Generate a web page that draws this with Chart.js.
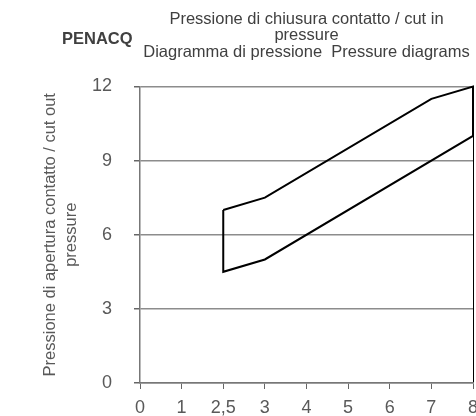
<!DOCTYPE html>
<html>
<head>
<meta charset="utf-8">
<script src="https://cdn.jsdelivr.net/npm/chart.js@4/dist/chart.umd.min.js"></script>
<style>
  html, body { margin: 0; padding: 0; background: #fff; }
  #wrap { width: 476px; height: 416px; }
</style>
</head>
<body>
<div id="wrap"><canvas id="pressChart" width="476" height="416"></canvas></div>
<script>
// pressure diagram - PENACQ

const categories = ['0', '1', '2,5', '3', '4', '5', '6', '7', '8'];
const yTicks = [0, 3, 6, 9, 12];

// upper edge (cut in) and lower edge (cut out) of the working band
const upperX = ['2,5', '3', '7', '8'];
const upperY = [7, 7.5, 11.5, 12];
const lowerX = ['2,5', '3', '8'];
const lowerY = [4.5, 5, 10];

const brand = 'PENACQ';
const titleLines = ['Pressione di chiusura contatto / cut in', 'pressure', 'Diagramma di pressione  Pressure diagrams'];
const yTitleLines = ['Pressione di apertura contatto / cut out', 'pressure'];

// closed outline: along the top, down the right side, back along the bottom
const outline = [];
upperX.forEach((x, i) => outline.push({ x: x, y: upperY[i] }));
for (let i = lowerX.length - 1; i >= 0; i--) outline.push({ x: lowerX[i], y: lowerY[i] });
outline.push({ x: upperX[0], y: upperY[0] });

const brandPlugin = {
  id: 'brand',
  afterDraw(chart) {
    const c = chart.ctx;
    c.save();
    c.font = 'bold 16.5px "Liberation Sans", Arial, sans-serif';
    c.fillStyle = '#404040';
    c.textBaseline = 'alphabetic';
    c.textAlign = 'left';
    c.fillText(brand, 62, 44);
    c.restore();
  }
};

const ctx = document.getElementById('pressChart').getContext('2d');
new Chart(ctx, {
  type: 'line',
  data: {
    labels: categories,
    datasets: [{
      data: outline,
      borderColor: '#000',
      borderWidth: 2,
      tension: 0,
      pointRadius: 0,
      fill: false,
      clip: false
    }]
  },
  options: {
    responsive: false,
    animation: false,
    layout: { padding: { left: 0, right: 3, top: 0, bottom: 0 } },
    plugins: {
      legend: { display: false },
      tooltip: { enabled: false },
      title: {
        display: true,
        fullSize: false,
        text: titleLines,
        color: '#404040',
        font: { family: '"Liberation Sans", Arial, sans-serif', size: 16.5, weight: 'normal', lineHeight: 1 },
        padding: { top: 11, bottom: 26 }
      }
    },
    scales: {
      x: {
        type: 'category',
        offset: false,
        grid: {
          color: (c) => (c.index === categories.length - 1 ? '#000' : 'rgba(0,0,0,0)'),
          tickColor: '#666',
          lineWidth: 1,
          tickLength: 6
        },
        border: { color: '#777', width: 1.5 },
        ticks: {
          color: '#595959',
          font: { family: '"Liberation Sans", Arial, sans-serif', size: 18 },
          padding: 8,
          maxRotation: 0,
          autoSkip: false
        },
        afterFit(scale) {
          scale.height = 33;
          scale.paddingLeft = 0;
          scale.paddingRight = 0;
        }
      },
      y: {
        min: 0,
        max: 12,
        afterBuildTicks(scale) {
          scale.ticks = yTicks.map(v => ({ value: v }));
        },
        grid: {
          color: '#8c8c8c',
          tickColor: '#666',
          lineWidth: 1.5,
          tickLength: 6
        },
        border: { color: '#777', width: 1.5 },
        ticks: {
          color: '#595959',
          font: { family: '"Liberation Sans", Arial, sans-serif', size: 18 },
          padding: 22
        },
        title: {
          display: true,
          text: yTitleLines,
          color: '#595959',
          font: { family: '"Liberation Sans", Arial, sans-serif', size: 16.5, lineHeight: 1.27 },
          padding: { top: 40, bottom: 0 }
        },
        afterFit(scale) {
          scale.width = 140;
          scale.paddingTop = 0;
          scale.paddingBottom = 0;
        }
      }
    }
  },
  plugins: [brandPlugin]
});
</script>
</body>
</html>
